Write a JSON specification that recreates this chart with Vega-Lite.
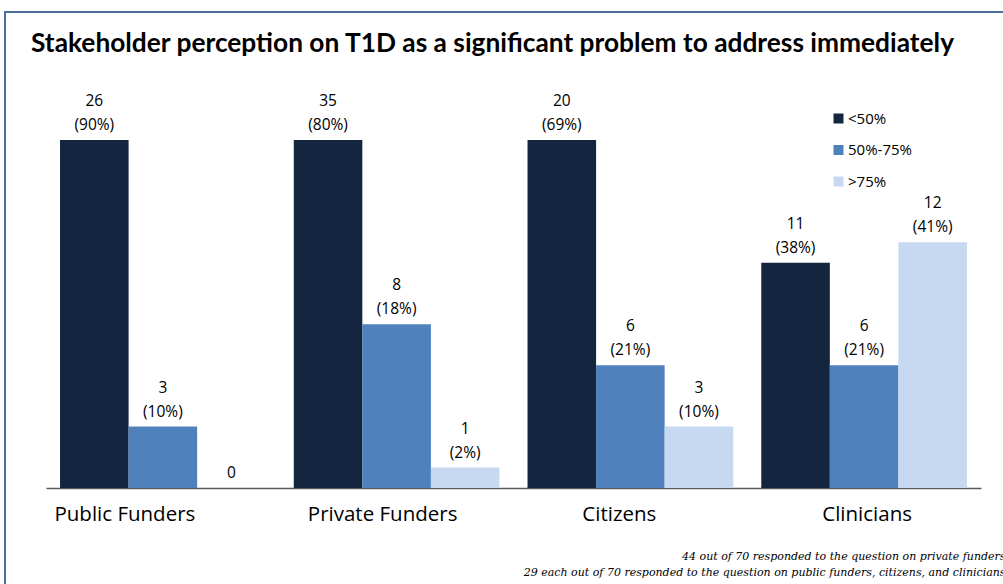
{
  "$schema": "https://vega.github.io/schema/vega-lite/v6.json",
  "autosize": {"type": "none"},
  "width": 1010,
  "height": 590,
  "padding": {"left": 5, "top": 12, "right": 0, "bottom": 0},
  "background": "white",
  "config": {
    "view": {"stroke": "#4A6D9C", "strokeWidth": 2},
    "font": "Open Sans"
  },
  "title": {
    "text": "Stakeholder perception on T1D as a significant problem to address immediately",
    "anchor": "start",
    "frame": "group",
    "orient": "top",
    "offset": -66,
    "dx": 26,
    "baseline": "alphabetic",
    "font": "Lato",
    "fontSize": 26.3,
    "fontWeight": "bold",
    "color": "#000000"
  },
  "data": {
    "values": [
      {"group": "Public Funders", "cat": "<50%", "value": 26, "label": "26\n(90%)"},
      {"group": "Public Funders", "cat": "50%-75%", "value": 3, "label": "3\n(10%)"},
      {"group": "Public Funders", "cat": ">75%", "value": 0, "label": "\n0"},
      {"group": "Private Funders", "cat": "<50%", "value": 35, "label": "35\n(80%)"},
      {"group": "Private Funders", "cat": "50%-75%", "value": 8, "label": "8\n(18%)"},
      {"group": "Private Funders", "cat": ">75%", "value": 1, "label": "1\n(2%)"},
      {"group": "Citizens", "cat": "<50%", "value": 20, "label": "20\n(69%)"},
      {"group": "Citizens", "cat": "50%-75%", "value": 6, "label": "6\n(21%)"},
      {"group": "Citizens", "cat": ">75%", "value": 3, "label": "3\n(10%)"},
      {"group": "Clinicians", "cat": "<50%", "value": 11, "label": "11\n(38%)"},
      {"group": "Clinicians", "cat": "50%-75%", "value": 6, "label": "6\n(21%)"},
      {"group": "Clinicians", "cat": ">75%", "value": 12, "label": "12\n(41%)"}
    ]
  },
  "encoding": {
    "x": {
      "field": "group",
      "type": "nominal",
      "sort": ["Public Funders", "Private Funders", "Citizens", "Clinicians"],
      "scale": {"range": [41, 976], "paddingInner": 0.12, "paddingOuter": 0.06},
      "axis": {
        "orient": "bottom",
        "offset": -114,
        "domainColor": "#595959",
        "domainWidth": 1.5,
        "ticks": false,
        "labelAngle": 0,
        "labelFont": "Open Sans",
        "labelFontSize": 20.5,
        "labelColor": "#000000",
        "labelPadding": 16,
        "labelOffset": {
          "condition": [
            {"test": "datum.value === 'Public Funders'", "value": -38},
            {"test": "datum.value === 'Private Funders'", "value": -14},
            {"test": "datum.value === 'Citizens'", "value": -11}
          ],
          "value": 3
        },
        "title": ["44 out of 70 responded to the question on private funders", "29 each out of 70 responded to the question on public funders, citizens, and clinicians"],
        "titleFont": "DejaVu Serif",
        "titleFontStyle": "italic",
        "titleFontWeight": "normal",
        "titleFontSize": 11,
        "titleColor": "#000000",
        "titleAlign": "right",
        "titleAnchor": "end",
        "titleX": 1000,
        "titleY": 62,
        "titleLineHeight": 16
      }
    },
    "xOffset": {
      "field": "cat",
      "type": "nominal",
      "sort": ["<50%", "50%-75%", ">75%"],
      "scale": {"paddingInner": 0, "paddingOuter": 0}
    },
    "y": {
      "field": "value",
      "type": "quantitative",
      "scale": {"domain": [0, 17], "range": [476, 128], "clamp": true, "nice": false, "zero": true},
      "axis": null
    }
  },
  "layer": [
    {
      "mark": {"type": "bar"},
      "encoding": {
        "color": {
          "field": "cat",
          "type": "nominal",
          "sort": ["<50%", "50%-75%", ">75%"],
          "scale": {"domain": ["<50%", "50%-75%", ">75%"], "range": ["#13253F", "#4F81BD", "#C6D9F1"]},
          "legend": {
            "title": null,
            "orient": "none",
            "legendX": 826,
            "legendY": 99,
            "symbolType": "square",
            "symbolSize": 100,
            "symbolStrokeWidth": 0,
            "labelFont": "Open Sans",
            "labelFontSize": 15,
            "labelColor": "#000000",
            "labelOffset": 2,
            "rowPadding": 15.5
          }
        }
      }
    },
    {
      "mark": {"type": "text", "baseline": "bottom", "dy": -31, "lineBreak": "\n", "lineHeight": 24, "font": "Open Sans", "fontSize": 15.5, "color": "#000000"},
      "encoding": {
        "text": {"field": "label", "type": "nominal"}
      }
    }
  ]
}
